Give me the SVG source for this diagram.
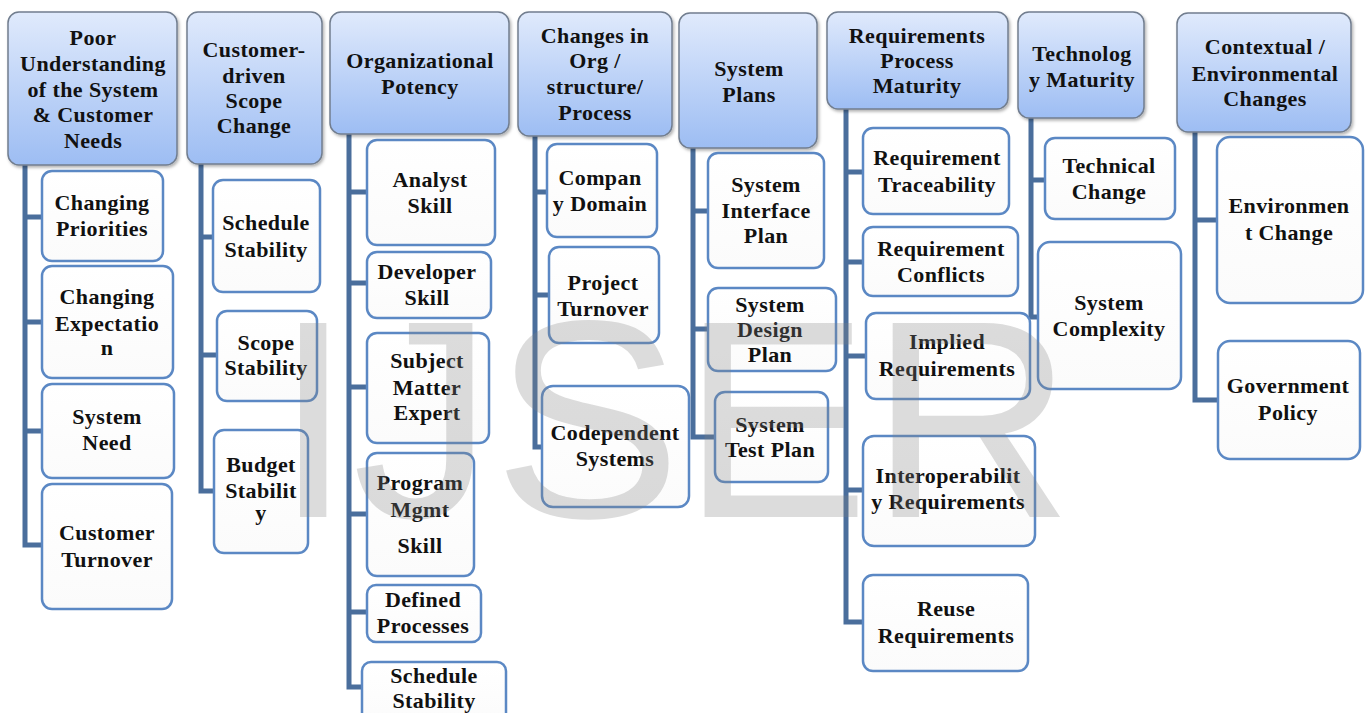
<svg xmlns="http://www.w3.org/2000/svg" width="1368" height="713" viewBox="0 0 1368 713">
  <defs>
    <linearGradient id="hdrFill" x1="0" y1="0" x2="0" y2="1">
      <stop offset="0" stop-color="#e0eafc"/>
      <stop offset="1" stop-color="#9dbdf3"/>
    </linearGradient>
    <linearGradient id="boxFill" x1="0" y1="0" x2="0" y2="1">
      <stop offset="0" stop-color="#ffffff"/>
      <stop offset="1" stop-color="#fbfbfb"/>
    </linearGradient>
    <filter id="shadow" x="-10%" y="-10%" width="125%" height="125%">
      <feDropShadow dx="1.5" dy="2" stdDeviation="1.5" flood-color="#000" flood-opacity="0.3"/>
    </filter>
  </defs>
  <style>
    .hdr rect { fill: url(#hdrFill); stroke: #717d8e; stroke-width: 1.5; filter: url(#shadow); }
    .box rect { fill: url(#boxFill); stroke: #5b88c4; stroke-width: 2.5; }
    text { font-family: "Liberation Serif", "Times New Roman", serif; font-weight: bold; font-size: 22px; letter-spacing: 0.4px; fill: #111; text-anchor: middle; }
    .links path { fill: none; stroke: #4a6e9c; stroke-width: 5; stroke-linejoin: miter; }
    .mark { font-family: "Liberation Sans", Arial, sans-serif; font-weight: normal; font-size: 282px; letter-spacing: 0; fill: #808080; fill-opacity: 0.28; text-anchor: start; }
  </style>
  <rect width="1368" height="713" fill="#ffffff"/>

  <!-- connectors: one trunk per column, with a branch to each child -->
  <g class="links">
    <path d="M25 165 V545 H44 M25 217 H44 M25 322 H44 M25 431 H44"/>
    <path d="M201 164 V491 H216 M201 237 H215 M201 355 H219"/>
    <path d="M349 134 V687 H364 M349 192 H369 M349 283 H369 M349 387 H369 M349 514 H369 M349 612 H369"/>
    <path d="M535 136 V447 H544 M535 192 H549 M535 295 H551"/>
    <path d="M693 148 V437 H717 M693 211 H710 M693 329 H710"/>
    <path d="M846 109 V622 H865 M846 172 H865 M846 262 H865 M846 356 H868 M846 490 H865"/>
    <path d="M1031 118 V317 H1040 M1031 180 H1047"/>
    <path d="M1195 132 V400 H1220 M1195 220 H1219"/>
  </g>

  <!-- column 1 -->
  <g id="poor-understanding" class="hdr">
    <rect x="8" y="12" width="169" height="153" rx="11"/>
    <text x="93" y="45">Poor</text>
    <text x="93" y="71">Understanding</text>
    <text x="93" y="97">of the System</text>
    <text x="93" y="122">&amp; Customer</text>
    <text x="93" y="148">Needs</text>
  </g>
  <g id="changing-priorities" class="box">
    <rect x="42" y="171" width="121" height="90" rx="10"/>
    <text x="102" y="210">Changing</text>
    <text x="102" y="236">Priorities</text>
  </g>
  <g id="changing-expectation" class="box">
    <rect x="42" y="266" width="131" height="112" rx="10"/>
    <text x="107" y="304">Changing</text>
    <text x="107" y="331">Expectatio</text>
    <text x="107" y="355">n</text>
  </g>
  <g id="system-need" class="box">
    <rect x="42" y="384" width="132" height="94" rx="10"/>
    <text x="107" y="424">System</text>
    <text x="107" y="450">Need</text>
  </g>
  <g id="customer-turnover" class="box">
    <rect x="42" y="484" width="130" height="125" rx="10"/>
    <text x="107" y="540">Customer</text>
    <text x="107" y="567">Turnover</text>
  </g>

  <!-- column 2 -->
  <g id="scope-change" class="hdr">
    <rect x="187" y="12" width="135" height="152" rx="11"/>
    <text x="254" y="57">Customer-</text>
    <text x="254" y="83">driven</text>
    <text x="254" y="108">Scope</text>
    <text x="254" y="133">Change</text>
  </g>
  <g id="schedule-stability-1" class="box">
    <rect x="213" y="180" width="107" height="112" rx="10"/>
    <text x="266" y="230">Schedule</text>
    <text x="266" y="257">Stability</text>
  </g>
  <g id="scope-stability" class="box">
    <rect x="217" y="311" width="100" height="90" rx="10"/>
    <text x="266" y="350">Scope</text>
    <text x="266" y="375">Stability</text>
  </g>
  <g id="budget-stability" class="box">
    <rect x="214" y="430" width="94" height="123" rx="10"/>
    <text x="261" y="472">Budget</text>
    <text x="261" y="498">Stabilit</text>
    <text x="261" y="520">y</text>
  </g>

  <!-- column 3 -->
  <g id="organizational-potency" class="hdr">
    <rect x="330" y="12" width="179" height="122" rx="11"/>
    <text x="420" y="68">Organizational</text>
    <text x="420" y="94">Potency</text>
  </g>
  <g id="analyst-skill" class="box">
    <rect x="367" y="140" width="128" height="105" rx="10"/>
    <text x="430" y="187">Analyst</text>
    <text x="430" y="213">Skill</text>
  </g>
  <g id="developer-skill" class="box">
    <rect x="367" y="252" width="124" height="66" rx="10"/>
    <text x="427" y="279">Developer</text>
    <text x="427" y="305">Skill</text>
  </g>
  <g id="subject-matter-expert" class="box">
    <rect x="367" y="333" width="122" height="110" rx="10"/>
    <text x="427" y="368">Subject</text>
    <text x="427" y="395">Matter</text>
    <text x="427" y="420">Expert</text>
  </g>
  <g id="program-mgmt-skill" class="box">
    <rect x="367" y="453" width="107" height="123" rx="10"/>
    <text x="420" y="490">Program</text>
    <text x="420" y="517">Mgmt</text>
    <text x="420" y="553">Skill</text>
  </g>
  <g id="defined-processes" class="box">
    <rect x="367" y="585" width="114" height="57" rx="9"/>
    <text x="423" y="607">Defined</text>
    <text x="423" y="633">Processes</text>
  </g>
  <g id="schedule-stability-2" class="box">
    <rect x="362" y="662" width="144" height="66" rx="9"/>
    <text x="434" y="683">Schedule</text>
    <text x="434" y="708">Stability</text>
  </g>

  <!-- column 4 -->
  <g id="org-changes" class="hdr">
    <rect x="518" y="12" width="154" height="124" rx="11"/>
    <text x="595" y="43">Changes in</text>
    <text x="595" y="68">Org /</text>
    <text x="595" y="94">structure/</text>
    <text x="595" y="120">Process</text>
  </g>
  <g id="company-domain" class="box">
    <rect x="547" y="144" width="110" height="93" rx="10"/>
    <text x="600" y="185">Compan</text>
    <text x="600" y="211">y Domain</text>
  </g>
  <g id="project-turnover" class="box">
    <rect x="549" y="247" width="110" height="96" rx="10"/>
    <text x="603" y="290">Project</text>
    <text x="603" y="316">Turnover</text>
  </g>
  <g id="codependent-systems" class="box">
    <rect x="542" y="386" width="147" height="121" rx="11"/>
    <text x="615" y="440">Codependent</text>
    <text x="615" y="466">Systems</text>
  </g>

  <!-- column 5 -->
  <g id="system-plans" class="hdr">
    <rect x="679" y="13" width="138" height="135" rx="11"/>
    <text x="749" y="76">System</text>
    <text x="749" y="102">Plans</text>
  </g>
  <g id="system-interface-plan" class="box">
    <rect x="708" y="153" width="116" height="115" rx="10"/>
    <text x="766" y="192">System</text>
    <text x="766" y="218">Interface</text>
    <text x="766" y="243">Plan</text>
  </g>
  <g id="system-design-plan" class="box">
    <rect x="708" y="288" width="128" height="83" rx="10"/>
    <text x="770" y="312">System</text>
    <text x="770" y="337">Design</text>
    <text x="770" y="362">Plan</text>
  </g>
  <g id="system-test-plan" class="box">
    <rect x="715" y="392" width="113" height="90" rx="10"/>
    <text x="770" y="432">System</text>
    <text x="770" y="457">Test Plan</text>
  </g>

  <!-- column 6 -->
  <g id="requirements-maturity" class="hdr">
    <rect x="827" y="12" width="181" height="97" rx="11"/>
    <text x="917" y="43">Requirements</text>
    <text x="917" y="68">Process</text>
    <text x="917" y="93">Maturity</text>
  </g>
  <g id="requirement-traceability" class="box">
    <rect x="863" y="128" width="146" height="86" rx="10"/>
    <text x="937" y="165">Requirement</text>
    <text x="937" y="192">Traceability</text>
  </g>
  <g id="requirement-conflicts" class="box">
    <rect x="863" y="227" width="155" height="69" rx="10"/>
    <text x="941" y="256">Requirement</text>
    <text x="941" y="282">Conflicts</text>
  </g>
  <g id="implied-requirements" class="box">
    <rect x="866" y="313" width="164" height="86" rx="10"/>
    <text x="947" y="349">Implied</text>
    <text x="947" y="376">Requirements</text>
  </g>
  <g id="interoperability-requirements" class="box">
    <rect x="863" y="436" width="172" height="110" rx="11"/>
    <text x="948" y="483">Interoperabilit</text>
    <text x="948" y="509">y Requirements</text>
  </g>
  <g id="reuse-requirements" class="box">
    <rect x="863" y="575" width="165" height="96" rx="10"/>
    <text x="946" y="616">Reuse</text>
    <text x="946" y="643">Requirements</text>
  </g>

  <!-- column 7 -->
  <g id="technology-maturity" class="hdr">
    <rect x="1018" y="12" width="126" height="106" rx="11"/>
    <text x="1082" y="61">Technolog</text>
    <text x="1082" y="87">y Maturity</text>
  </g>
  <g id="technical-change" class="box">
    <rect x="1045" y="138" width="130" height="81" rx="10"/>
    <text x="1109" y="173">Technical</text>
    <text x="1109" y="199">Change</text>
  </g>
  <g id="system-complexity" class="box">
    <rect x="1038" y="242" width="143" height="147" rx="12"/>
    <text x="1109" y="310">System</text>
    <text x="1109" y="336">Complexity</text>
  </g>

  <!-- column 8 -->
  <g id="environmental-changes" class="hdr">
    <rect x="1177" y="13" width="174" height="119" rx="11"/>
    <text x="1265" y="54">Contextual /</text>
    <text x="1265" y="81">Environmental</text>
    <text x="1265" y="106">Changes</text>
  </g>
  <g id="environment-change" class="box">
    <rect x="1217" y="137" width="146" height="166" rx="13"/>
    <text x="1289" y="213">Environmen</text>
    <text x="1289" y="240">t Change</text>
  </g>
  <g id="government-policy" class="box">
    <rect x="1218" y="341" width="142" height="118" rx="12"/>
    <text x="1288" y="393">Government</text>
    <text x="1288" y="420">Policy</text>
  </g>

  <!-- translucent watermark over the chart -->
  <text class="mark" x="274" y="517">IJSER</text>
</svg>
